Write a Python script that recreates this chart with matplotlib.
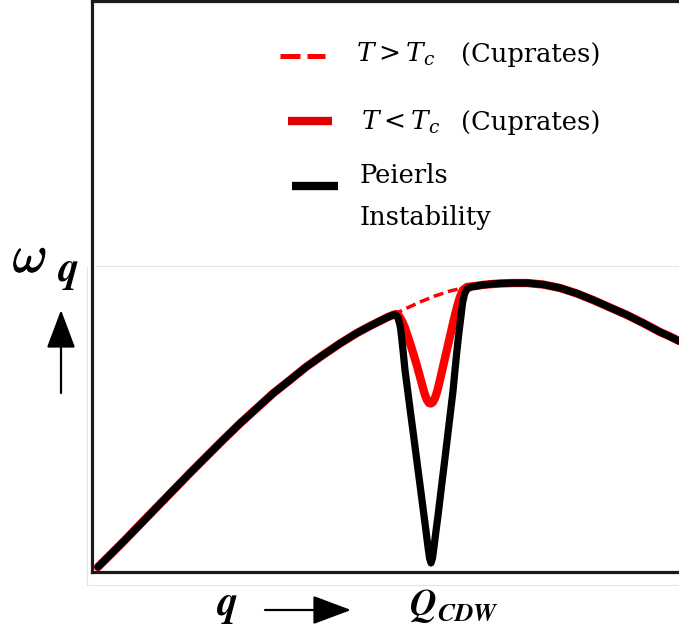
import matplotlib
matplotlib.use("Agg")
import matplotlib.pyplot as plt
import matplotlib.patheffects as pe
from matplotlib.lines import Line2D

plt.rcParams['font.family'] = ['DejaVu Serif', 'DejaVu Sans']
plt.rcParams['mathtext.fontset'] = 'dejavuserif'

# phonon dispersion (q and omega in arbitrary units, 0..10)
q_rise = [0.102, 0.307, 0.562, 0.818, 1.107, 1.380, 1.670, 1.942, 2.232, 2.521,
          2.811, 3.083, 3.373, 3.646, 3.935, 4.225, 4.514, 4.736, 4.906, 5.043, 5.128]
w_rise = [0.088, 0.298, 0.560, 0.832, 1.138, 1.427, 1.734, 2.014, 2.312, 2.601,
          2.872, 3.126, 3.363, 3.590, 3.800, 4.002, 4.186, 4.308, 4.396, 4.466, 4.501]

q_fall = [6.644, 6.780, 6.951, 7.172, 7.411, 7.683, 7.973, 8.262, 8.535, 8.825,
          9.114, 9.387, 9.676, 9.847, 10.0]
w_fall = [5.026, 5.040, 5.053, 5.061, 5.061, 5.035, 4.974, 4.877, 4.764, 4.632,
          4.501, 4.361, 4.203, 4.124, 4.046]

# Kohn anomaly, Peierls instability (black)
q_peierls = [5.179, 5.213, 5.247, 5.264, 5.298, 5.332, 5.383, 5.434, 5.486, 5.537,
             5.588, 5.639, 5.690, 5.724, 5.750, 5.775, 5.801, 5.826, 5.860, 5.894,
             5.945, 5.997, 6.048, 6.099, 6.150, 6.184, 6.218, 6.252, 6.286, 6.312,
             6.346, 6.388, 6.457, 6.542]
w_peierls = [4.501, 4.448, 4.326, 4.203, 3.888, 3.538, 3.135, 2.732, 2.329, 1.926,
             1.524, 1.121, 0.718, 0.438, 0.245, 0.158, 0.245, 0.438, 0.718, 0.981,
             1.419, 1.856, 2.294, 2.732, 3.170, 3.538, 3.888, 4.203, 4.483, 4.711,
             4.869, 4.956, 4.991, 5.009]

# cuprates below Tc (red)
q_below = [5.179, 5.230, 5.281, 5.332, 5.383, 5.434, 5.486, 5.537, 5.588, 5.639,
           5.673, 5.707, 5.741, 5.775, 5.809, 5.843, 5.877, 5.911, 5.963, 6.014,
           6.065, 6.116, 6.167, 6.218, 6.269, 6.320, 6.388, 6.457, 6.542]
w_below = [4.518, 4.483, 4.396, 4.273, 4.116, 3.958, 3.783, 3.608, 3.415, 3.222,
           3.100, 3.012, 2.960, 2.951, 2.977, 3.047, 3.152, 3.292, 3.520, 3.748,
           3.975, 4.203, 4.431, 4.641, 4.816, 4.939, 4.991, 5.000, 5.009]

# cuprates above Tc (red dashed)
q_above = [5.128, 5.332, 5.588, 5.843, 6.099, 6.388]
w_above = [4.501, 4.606, 4.729, 4.834, 4.921, 4.991]

W, H = 679, 635
fig = plt.figure(figsize=(W / 100, H / 100), dpi=100)
ax = fig.add_axes([92 / W, 1 - 572 / H, 1 - 92 / W, 571 / H])
ax.set_xlim(0, 10)
ax.set_ylim(0, 10)
ax.set_xticks([])
ax.set_yticks([])
ax.spines['right'].set_visible(False)
for s in ['left', 'top', 'bottom']:
    ax.spines[s].set_linewidth(2.3)
    ax.spines[s].set_color('#1a1a1a')

ax.plot(q_rise + q_below + q_fall, w_rise + w_below + w_fall,
        color='red', lw=6.0, solid_capstyle='round', solid_joinstyle='round')
ax.plot(q_above, w_above, color='red', lw=2.5, dashes=(2.9, 1.4),
        dash_capstyle='butt')
ax.plot(q_rise + q_peierls + q_fall, w_rise + w_peierls + w_fall,
        color='black', lw=5.2, solid_capstyle='round', solid_joinstyle='round')


def fx(px):
    return px / W


def fy(py):
    return 1 - py / H


# legend drawn by hand
fig.add_artist(Line2D([fx(280), fx(325)], [fy(56), fy(56)], color='red', lw=3.6,
                      dashes=(4, 1.4), dash_capstyle='butt'))
fig.add_artist(Line2D([fx(288), fx(332)], [fy(121), fy(121)], color='#e00000', lw=6,
                      solid_capstyle='butt'))
fig.add_artist(Line2D([fx(292), fx(338)], [fy(186), fy(186)], color='black', lw=6,
                      solid_capstyle='butt'))
fig.text(fx(356), fy(62), r'$T > T_c$', fontsize=19, va='baseline')
fig.text(fx(361), fy(130), r'$T < T_c$', fontsize=19, va='baseline')
fig.text(fx(461), fy(62), '(Cuprates)', fontsize=18.5, va='baseline')
fig.text(fx(461), fy(130), '(Cuprates)', fontsize=18.5, va='baseline')
fig.text(fx(360), fy(183), 'Peierls', fontsize=18.5, va='baseline')
fig.text(fx(360), fy(225), 'Instability', fontsize=18.5, va='baseline')

# axis labels
fig.text(fx(13), fy(272), r'$\omega$', fontsize=38, va='baseline',
         math_fontfamily='cm',
         path_effects=[pe.withStroke(linewidth=0.7, foreground='black')])
fig.text(fx(57), fy(281), r'$\boldsymbol{q}$', fontsize=30, va='baseline',
         math_fontfamily='cm')
fig.text(fx(216), fy(615), r'$\boldsymbol{q}$', fontsize=30, va='baseline',
         math_fontfamily='cm')
fig.text(fx(409), fy(615), r'$\boldsymbol{Q}_{\boldsymbol{CDW}}$', fontsize=26.5,
         va='baseline', math_fontfamily='cm')

arrow = dict(arrowstyle='-|>,head_length=1.2,head_width=0.45', lw=1.6,
             color='black', mutation_scale=20, shrinkA=0, shrinkB=0)
ax.annotate('', xy=(fx(61), fy(310)), xytext=(fx(61), fy(393)),
            xycoords='figure fraction', textcoords='figure fraction', arrowprops=arrow)
ax.annotate('', xy=(fx(351), fy(610)), xytext=(fx(265), fy(610)),
            xycoords='figure fraction', textcoords='figure fraction', arrowprops=arrow)

# faint frame lines from the source image
grey = '#e4e4e4'
fig.add_artist(Line2D([fx(96), fx(679)], [fy(266), fy(266)], color=grey, lw=0.8))
fig.add_artist(Line2D([fx(87), fx(87)], [fy(267), fy(585)], color=grey, lw=0.8))
fig.add_artist(Line2D([fx(87), fx(679)], [fy(585), fy(585)], color=grey, lw=0.8))

fig.savefig('out.png', dpi=100)
